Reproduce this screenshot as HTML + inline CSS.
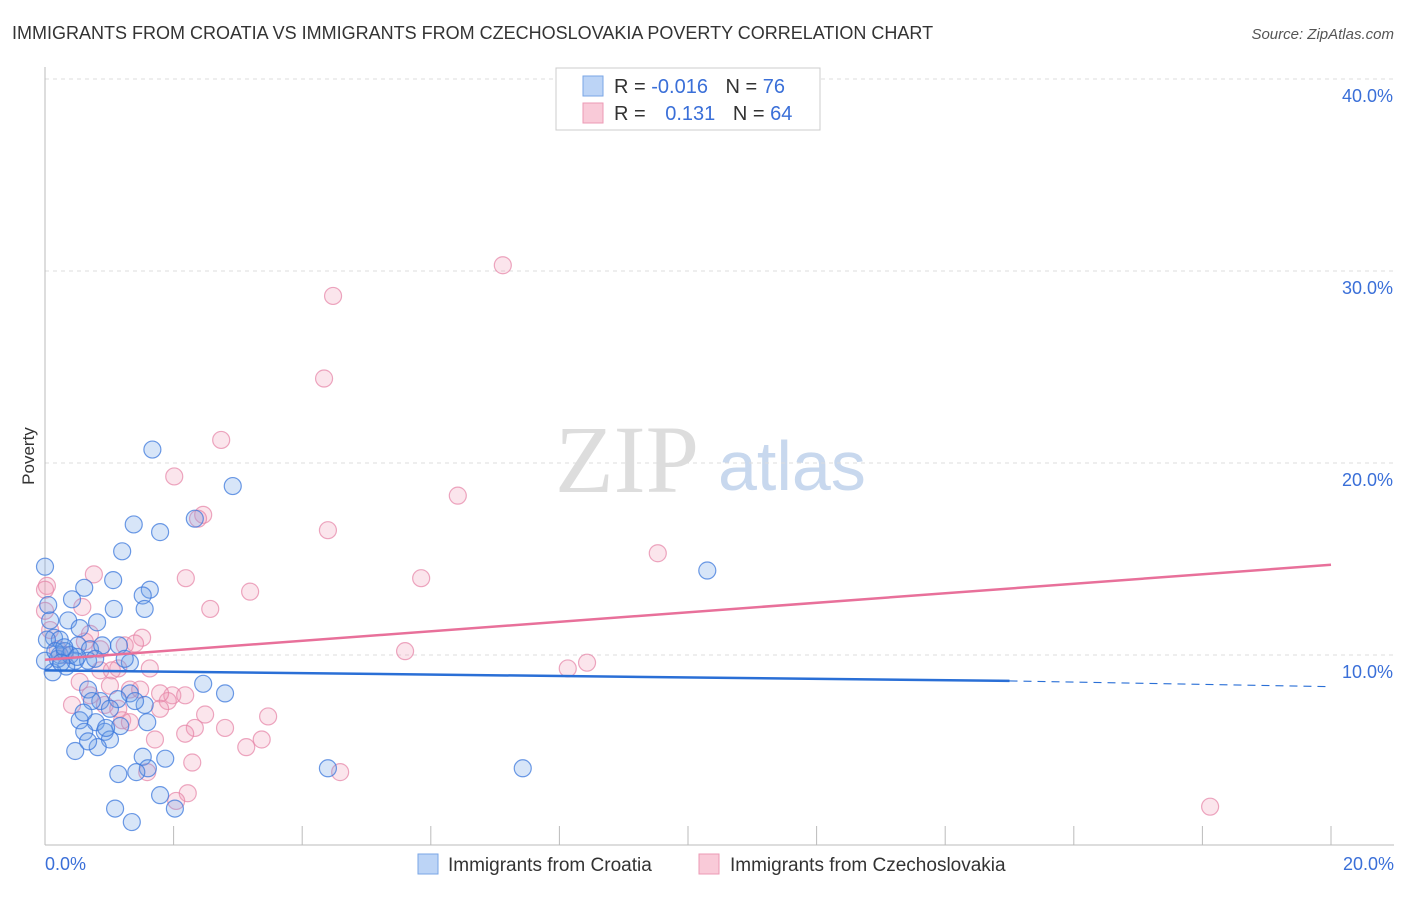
<!DOCTYPE html>
<html><head><meta charset="utf-8"><style>
body{margin:0;background:#fff;font-family:"Liberation Sans",sans-serif;}
svg text{font-family:"Liberation Sans",sans-serif;}
</style></head><body>
<svg id="chart" width="1406" height="892">
<text x="12" y="39" font-size="18" fill="#333">IMMIGRANTS FROM CROATIA VS IMMIGRANTS FROM CZECHOSLOVAKIA POVERTY CORRELATION CHART</text>
<text x="1394" y="39" font-size="15" fill="#555" font-style="italic" text-anchor="end">Source: ZipAtlas.com</text>
<text x="555" y="492" font-size="96" fill="#ddd" font-family="Liberation Serif" style="font-family:'Liberation Serif',serif">ZIP</text>
<text x="718" y="490" font-size="70" fill="#c8d8ee">atlas</text>
<g id="grid"></g>
<g id="axes"></g>
<g id="pts"></g>
<g id="trend"></g>
<text x="34" y="456" font-size="17" fill="#333" transform="rotate(-90 34 456)" text-anchor="middle">Poverty</text>
<g>
<rect x="556" y="68" width="264" height="62" fill="#fff" stroke="#ccc"/>
<rect x="583" y="76" width="20" height="20" fill="#bcd4f6" stroke="#7aa6e6"/>
<rect x="583" y="103" width="20" height="20" fill="#f9cad8" stroke="#ec9ab5"/>
<text x="614" y="93" font-size="20" fill="#333">R = <tspan fill="#3a6fd8">-0.016</tspan>  <tspan dx="12">N = </tspan><tspan fill="#3a6fd8">76</tspan></text>
<text x="614" y="120" font-size="20" fill="#333">R = <tspan dx="14" fill="#3a6fd8">0.131</tspan>  <tspan dx="12">N = </tspan><tspan fill="#3a6fd8">64</tspan></text>
</g>
<g>
<rect x="418" y="854" width="20" height="20" fill="#bcd4f6" stroke="#7aa6e6"/>
<text x="448" y="871" font-size="19" fill="#333">Immigrants from Croatia</text>
<rect x="699" y="854" width="20" height="20" fill="#f9cad8" stroke="#ec9ab5"/>
<text x="730" y="871" font-size="19" fill="#333">Immigrants from Czechoslovakia</text>
</g>
</svg>
<script>
const yTicks=[10,20,30,40];
const yTickLabels=["10.0%","20.0%","30.0%","40.0%"];
const xTickLabels=["0.0%","20.0%"];
const croatiaX=[1.67,2.92,1.38,1.79,2.33,1.2,10.3,0,1.06,0.61,1.63,1.52,1.55,1.07,0.42,0.05,0.81,0.36,0.54,1.15,1.32,0.14,0.23,0.51,0.7,0.89,0.47,0.67,0.33,0.12,0.78,2.46,2.8,0.67,1.32,1.13,1.55,0.54,0.79,0.93,1.17,1.59,0.61,1.01,0.47,0.82,1.52,1.87,1.6,1.14,1.42,4.4,7.43,1.79,1.09,2.02,1.35,0,0.23,0.86,1.01,1.4,0.67,0.2,0.03,0.08,0.31,0.39,0.16,0.73,1.24,0.3,0.5,0.95,0.25,0.6];
const croatiaY=[20.7,18.8,16.8,16.4,17.1,15.4,14.4,14.6,13.9,13.5,13.4,13.1,12.4,12.4,12.9,12.6,11.7,11.8,11.4,10.5,9.6,10.9,10.8,10.5,10.3,10.5,9.7,9.7,9.4,9.1,9.8,8.5,8.0,8.2,8.0,7.7,7.4,6.6,6.5,6.0,6.3,6.5,6.0,5.6,5.0,5.2,4.7,4.6,4.1,3.8,3.9,4.1,4.1,2.7,2.0,2.0,1.3,9.7,10.0,7.6,7.2,7.6,5.5,9.8,10.8,11.8,10.2,10.0,10.2,7.6,9.8,10.4,9.9,6.2,9.6,7.0];
const czechX=[7.12,4.48,4.34,2.74,2.01,6.42,2.46,2.38,4.4,9.53,5.85,3.19,2.19,2.57,0.76,0.58,0.03,0,0.08,5.6,8.13,8.43,1.24,1.51,1.4,0.7,0.86,0.54,0.31,0.2,1.01,1.14,1.32,1.63,1.48,0.93,1.98,2.18,1.91,2.49,2.33,2.8,3.47,1.2,1.32,0.42,0.7,1.71,3.37,3.13,2.18,2.29,1.59,4.59,2.22,2.04,18.12,0,1.79,1.04,1.79,0.86,0.62,1.14];
const czechY=[30.3,28.7,24.4,21.2,19.3,18.3,17.3,17.1,16.5,15.3,14.0,13.3,14.0,12.4,14.2,12.5,13.6,12.3,11.3,10.2,9.3,9.6,10.5,10.9,10.6,11.1,9.2,8.6,10.0,10.3,8.4,9.3,8.2,9.3,8.2,7.4,7.9,7.9,7.6,6.9,6.2,6.2,6.8,6.6,6.5,7.4,7.9,5.6,5.6,5.2,5.9,4.4,3.9,3.9,2.8,2.4,2.1,13.4,8.0,9.2,7.2,10.3,10.7,7.2];
const trendCroatia=[0,9.2,15,8.65,20,8.35];
const trendCzech=[0,9.75,20,14.7];
const NS="http://www.w3.org/2000/svg";
const X0=45,X1=1331,Y0=847,PPY=19.2;
function sx(v){return X0+(X1-X0)*v/20;}
function sy(v){return Y0-v*PPY;}
function mk(t,a,p){const e=document.createElementNS(NS,t);for(const k in a)e.setAttribute(k,a[k]);p.appendChild(e);return e;}
const grid=document.getElementById('grid'),axes=document.getElementById('axes');
yTicks.forEach((t,i)=>{
 const l=mk('line',{x1:X0,x2:1394,y1:sy(t),y2:sy(t),stroke:'#ddd','stroke-dasharray':'4,4'},grid);
 
 
 const tx=mk('text',{x:1393,y:sy(t)+23,'font-size':18,fill:'#3a6fd8','text-anchor':'end'},axes);
 tx.textContent=yTickLabels[i];
 
 
});
const ya=mk('line',{x1:X0,x2:X0,y1:67,y2:845,stroke:'#bbb'},axes);


const xa=mk('line',{x1:X0,x2:1394,y1:845,y2:845,stroke:'#bbb'},axes);


for(let i=0;i<=10;i++){
 const tk=mk('line',{x1:sx(i*2),x2:sx(i*2),y1:826,y2:845,stroke:'#bbb'},axes);
 
 
}
[[0,45,'start'],[20,1394,'end']].forEach((d,i)=>{
 const tx=mk('text',{x:d[1],y:870,'font-size':18,fill:'#3a6fd8','text-anchor':d[2]},axes);
 tx.textContent=xTickLabels[i];
 
 
});
const pts=document.getElementById('pts');
function series(xs,ys,fill,stroke,name){
 xs.forEach((x,i)=>{
  const c=mk('circle',{cx:sx(x),cy:sy(ys[i]),r:8.5,fill:fill,stroke:stroke,'stroke-width':1.2},pts);
  
  
 });
}
series(czechX,czechY,'rgba(240,150,180,0.25)','rgba(230,130,165,0.7)','czechoslovakia-point');
series(croatiaX,croatiaY,'rgba(110,160,230,0.28)','rgba(60,120,220,0.75)','croatia-point');
const tr=document.getElementById('trend');
const b1=mk('line',{x1:sx(trendCroatia[0]),y1:sy(trendCroatia[1]),x2:sx(trendCroatia[2]),y2:sy(trendCroatia[3]),stroke:'#2a6fd6','stroke-width':2.5},tr);


const b2=mk('line',{x1:sx(trendCroatia[2]),y1:sy(trendCroatia[3]),x2:sx(trendCroatia[4]),y2:sy(trendCroatia[5]),stroke:'#2a6fd6','stroke-width':1.2,'stroke-dasharray':'8,6'},tr);


const p1=mk('line',{x1:sx(trendCzech[0]),y1:sy(trendCzech[1]),x2:sx(trendCzech[2]),y2:sy(trendCzech[3]),stroke:'#e8709a','stroke-width':2.5},tr);


</script>
</body></html>
